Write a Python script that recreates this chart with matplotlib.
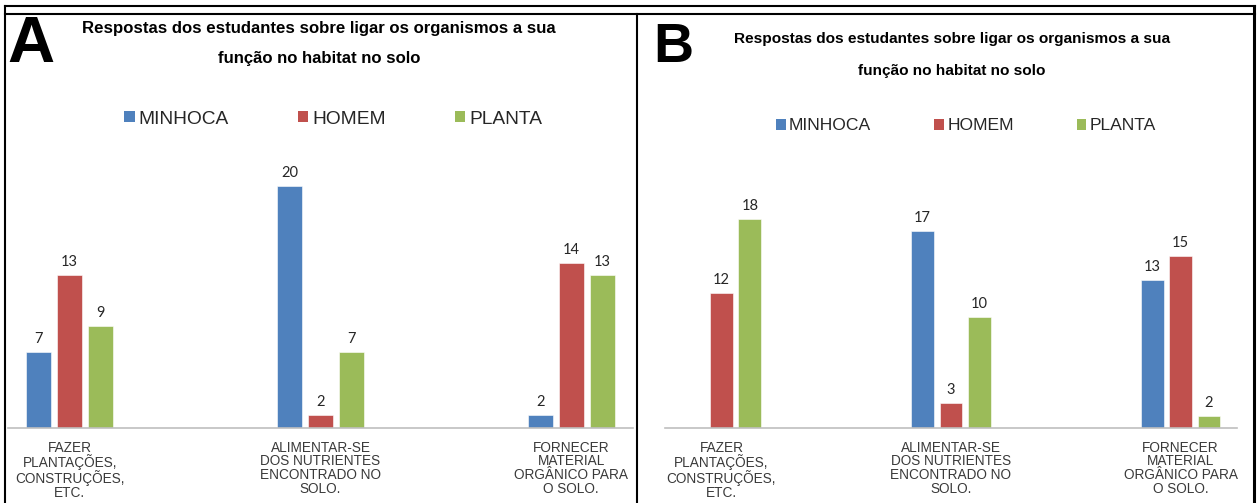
import matplotlib
matplotlib.use("Agg")
from matplotlib import pyplot as plt
from matplotlib.patches import Patch
from matplotlib.lines import Line2D
import numpy as np

categorias = ["FAZER\nPLANTAÇÕES,\nCONSTRUÇÕES,\nETC.",
              "ALIMENTAR-SE\nDOS NUTRIENTES\nENCONTRADO NO\nSOLO.",
              "FORNECER\nMATERIAL\nORGÂNICO PARA\nO SOLO."]
series = ["MINHOCA", "HOMEM", "PLANTA"]
cores = ["#4F81BD", "#C0504D", "#9BBB59"]

# painel A
minhoca_a = [7, 20, 2]
homem_a = [13, 2, 14]
planta_a = [9, 7, 13]

# painel B (sem valor para minhoca na primeira categoria)
minhoca_b = [0, 17, 13]
homem_b = [12, 3, 15]
planta_b = [18, 10, 2]

titulo = "Respostas dos estudantes sobre ligar os organismos a sua"
titulo2 = "função no habitat no solo"

W, H = 1259, 503
plt.rcParams['font.family'] = ['Liberation Sans', 'DejaVu Sans']
fig = plt.figure(figsize=(W / 100, H / 100), dpi=100)


def px(x, y):
    return x / W, 1 - y / H


def painel(left, right, escala, dados, cx, ty1, ty2, tsize, ly, lsize, lspace, letra, lx, lyy, letsize):
    base, topo = 428, 150
    ax = fig.add_axes([left / W, 1 - base / H, (right - left) / W, (base - topo) / H])
    x = np.arange(len(categorias))
    larg = 0.1
    passo = 0.124
    for i, vals in enumerate(dados):
        pos = x + (i - 1) * passo
        barras = ax.bar(pos, vals, width=larg, color=cores[i], edgecolor="white", linewidth=0.4)
        for b, v in zip(barras, vals):
            if v > 0:
                ax.annotate(str(v), (b.get_x() + b.get_width() / 2, v), xytext=(0, 6.5),
                            textcoords="offset points", ha="center", va="baseline",
                            fontsize=10.5, family=["Lato", "DejaVu Sans"], color="#262626")
    ax.set_xlim(-0.246, 2.246)
    ax.set_ylim(1, 1 + (base - topo) / escala)
    for s in ["top", "left", "right"]:
        ax.spines[s].set_visible(False)
    ax.spines["bottom"].set_color("#BFBFBF")
    ax.spines["bottom"].set_linewidth(1.2)
    ax.set_yticks([])
    ax.set_xticks(x)
    ax.set_xticklabels(categorias, fontsize=9.8, color="#3a3a3a", linespacing=0.98)
    ax.tick_params(axis="x", length=0, pad=9)
    ax.patch.set_alpha(0)

    fig.text(*px(cx, ty1), titulo, ha="center", va="center", fontsize=tsize, fontweight="bold")
    fig.text(*px(cx, ty2), titulo2, ha="center", va="center", fontsize=tsize, fontweight="bold")
    fig.text(*px(lx, lyy), letra, ha="center", va="center", fontsize=letsize, fontweight="bold")

    handles = [Patch(facecolor=c, edgecolor="none") for c in cores]
    leg = ax.legend(handles, series, ncol=3, loc="center", bbox_to_anchor=px(cx + 14, ly),
                    bbox_transform=fig.transFigure, frameon=False, fontsize=lsize,
                    handlelength=0.55, handleheight=0.55, handletextpad=0.2,
                    columnspacing=lspace, borderpad=0)
    for t in leg.get_texts():
        t.set_color("#262626")
    return ax


painel(8, 633, 12.72, [minhoca_a, homem_a, planta_a], 319, 28, 59, 12.1, 119, 13.8, 3.6,
       "A", 31, 45, 47)
painel(665, 1237, 12.3, [minhoca_b, homem_b, planta_b], 952, 39, 71, 11.1, 126, 12.6, 3.6,
       "B", 673, 48, 40)

# moldura
linhas = [
    ([5, 1255], [6, 6], 1.5),
    ([5, 1255], [14, 14], 1.5),
    ([5, 5], [6, 503], 1.5),
    ([637, 637], [14, 503], 1.5),
    ([1254, 1254], [6, 503], 2.2),
]
for xs, ys, lw in linhas:
    fig.add_artist(Line2D([x / W for x in xs], [1 - y / H for y in ys], color="black",
                          linewidth=lw, transform=fig.transFigure))

fig.savefig("out.png", dpi=100)
